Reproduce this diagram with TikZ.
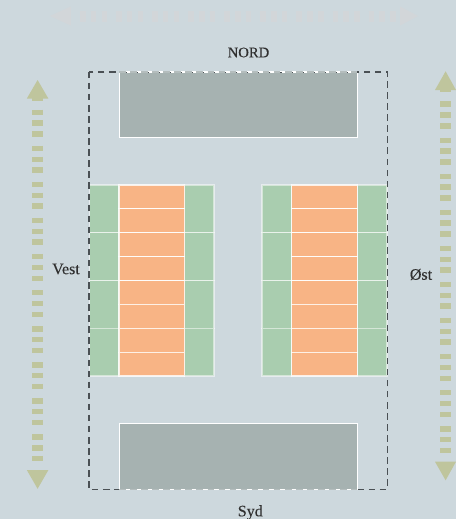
\documentclass[tikz,border=0pt]{standalone}
\usepackage{fontspec}
\setmainfont{Liberation Serif}
\newfontfamily\capfont[FakeBold=0.1]{Liberation Serif}
\definecolor{bgc}{HTML}{CDD8DD}
\definecolor{grayc}{HTML}{A6B2B1}
\definecolor{greenc}{HTML}{A9CDAF}
\definecolor{orangec}{HTML}{F8B485}
\definecolor{arrowc}{HTML}{BFC59D}
\definecolor{fadec}{HTML}{D2D6D9}
\definecolor{inkc}{HTML}{303030}
\definecolor{fencec}{HTML}{4A5054}
\definecolor{fencelight}{HTML}{B4BDBD}
\tikzset{
  x=0.75pt,y=-0.75pt,
  caption/.style={inner sep=0pt,text=inkc,font=\capfont\fontsize{12pt}{14pt}\selectfont},
  captioncaps/.style={caption,font=\capfont\fontsize{11pt}{13pt}\selectfont},
  road/.style={line width=8.25pt,dash pattern=on 4.1pt off 4pt on 4.1pt off 4pt on 4.1pt off 6.75pt,dash phase=16.2pt},
  park/.style={fill=grayc,draw=white,line width=0.75pt},
  gardencell/.style={fill=greenc,draw=white,draw opacity=0.5,line width=0.9pt},
  roomcell/.style={fill=orangec,draw=white,draw opacity=0.8,line width=0.9pt},
  fence/.style={draw=fencec,line width=1.05pt,dash pattern=on 4.9pt off 3.4pt}
}
\begin{document}
\begin{tikzpicture}
\useasboundingbox (0,0) rectangle (456,519);
\fill[bgc] (0,0) rectangle (456,519);
% parks
\draw[park] (119,72) rectangle (357,137);
\draw[park] (119,423.6) rectangle (357,489);
% blocks
\foreach \i in {0,1,2,3}{
  \pgfmathsetmacro{\ya}{185+47.75*\i}
  \pgfmathsetmacro{\yb}{\ya+47.75}
  \draw[gardencell] (89.5,\ya) rectangle (119,\yb);
  \draw[gardencell] (184.8,\ya) rectangle (214,\yb);
  \draw[gardencell] (262,\ya) rectangle (291.5,\yb);
  \draw[gardencell] (357.2,\ya) rectangle (387,\yb);
}
\foreach \i in {0,...,7}{
  \pgfmathsetmacro{\ya}{185+23.875*\i}
  \pgfmathsetmacro{\yb}{\ya+23.875}
  \draw[roomcell] (119,\ya) rectangle (184.8,\yb);
  \draw[roomcell] (291.5,\ya) rectangle (357.2,\yb);
}
% fenced area
\draw[fence] (88.8,71.8) rectangle (387.5,489.2);
% fence seen faintly along the parks
\draw[white,line width=0.9pt] (119,71.8) -- (357,71.8);
\draw[white,line width=0.9pt] (119,489.2) -- (357,489.2);
\draw[fence,draw=fencelight] (119,71.8) -- (357,71.8);
\draw[fence,draw=fencelight] (119,489.2) -- (357,489.2);
% arrows
\coordinate (la) at (37.6,95.2);  \coordinate (lb) at (37.6,470);
\coordinate (ra) at (445.6,87);   \coordinate (rb) at (445.6,461.7);
\coordinate (ta) at (65.6,16);    \coordinate (tb) at (402,16);
\draw[road,draw=arrowc] (la) -- (lb);
\draw[road,draw=arrowc] (ra) -- (rb);
\draw[road,draw=fadec] (ta) -- (tb);
\fill[arrowc] (37.6,80) -- (48.4,98.6) -- (26.8,98.6) -- cycle;
\fill[arrowc] (37.6,488.8) -- (48.4,470) -- (26.8,470) -- cycle;
\fill[arrowc] (445.6,71.3) -- (456,90) -- (435,90) -- cycle;
\fill[arrowc] (445.6,480.3) -- (456,461.7) -- (435,461.7) -- cycle;
\fill[fadec] (50,16) -- (70.8,6.5) -- (70.8,25.5) -- cycle;
\fill[fadec] (418,16) -- (400,6.5) -- (400,25.5) -- cycle;
% labels
\node[captioncaps] (nord) at (248.5,52.5) {NORD};
\node[caption] (syd) at (250.3,512.5) {Syd};
\node[caption] (vest) at (66,269) {Vest};
\node[caption] (ost) at (421,274.5) {Øst};
\end{tikzpicture}
\end{document}
